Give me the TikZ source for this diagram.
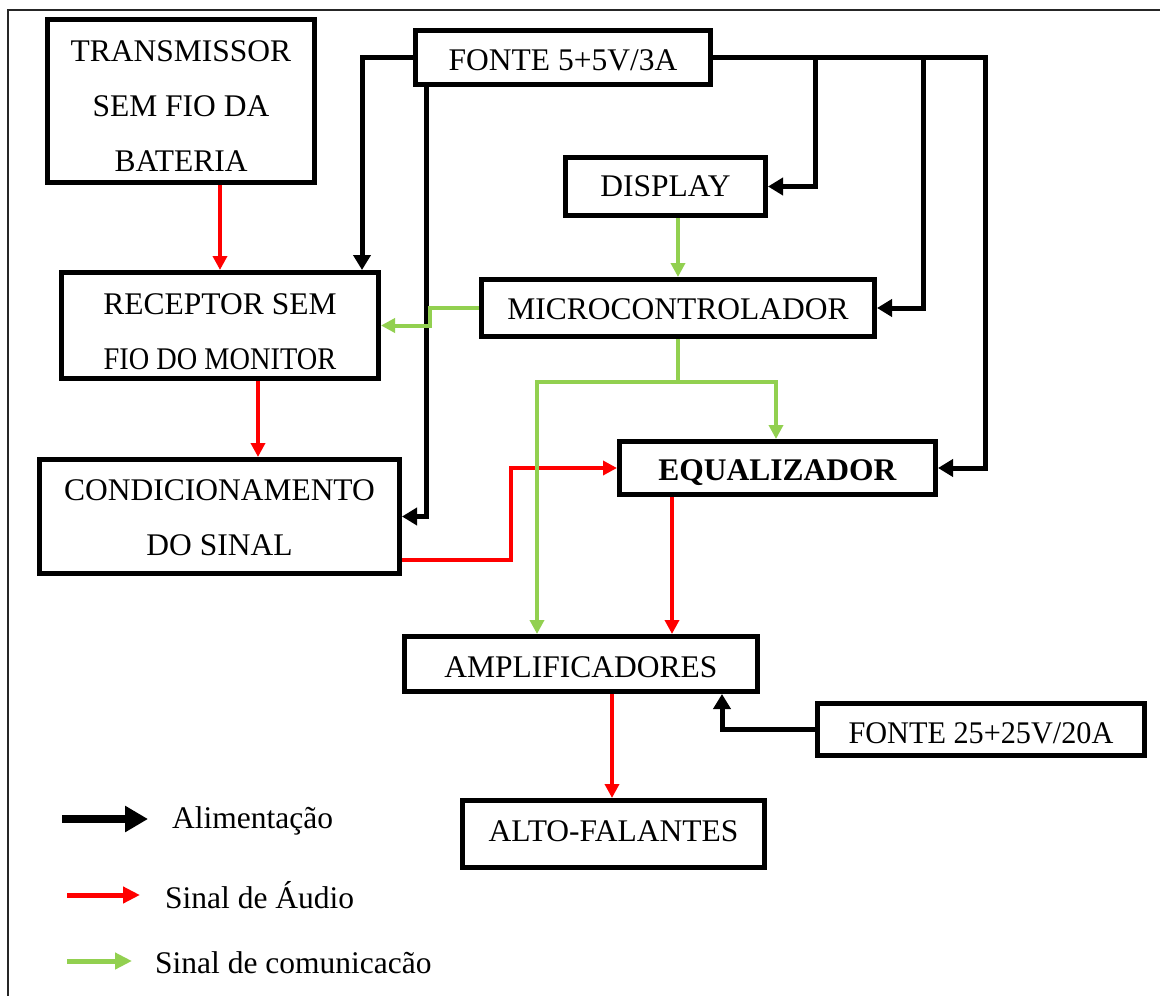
\documentclass[tikz,border=0pt]{standalone}
\usepackage{fontspec}
\setmainfont{Liberation Serif}
\usetikzlibrary{arrows.meta,calc}
\definecolor{audred}{RGB}{255,0,0}
\definecolor{comgreen}{RGB}{146,208,80}
\newcommand\lowr[2]{\raisebox{-#1}[\height][\depth]{#2}}
\begin{document}
\begin{tikzpicture}[x=1pt,y=-1pt,
  box/.style={draw, line width=5pt, align=center, inner sep=0pt, font=\fontsize{31.5}{55}\selectfont},
  pwline/.style={draw=black, line width=5pt, -{Triangle[length=15pt,width=17pt]}},
  audline/.style={draw=audred, line width=4pt, -{Triangle[length=14pt,width=14pt]}},
  comline/.style={draw=comgreen, line width=4pt, -{Triangle[length=14pt,width=14pt]}},
  lbl/.style={inner sep=0pt, font=\fontsize{31.5}{38}\selectfont},
  frameline/.style={draw=black!85, line width=1.5pt}]
\useasboundingbox (0,0) rectangle (1160,996);
\clip (0,0) rectangle (1160,996);
% outer frame (only left and top visible)
\draw[frameline] (8,1100) -- (8,10) -- (1200,10);

% boxes
\node[box, minimum width=267, minimum height=163] (tx) at (181,101) {\lowr{5pt}{TRANSMISSOR}\\\lowr{5pt}{SEM FIO DA}\\\lowr{5pt}{BATERIA}};
\node[box, minimum width=295, minimum height=54] (f5) at (563,57.5) {\lowr{3pt}{FONTE 5+5V/3A}};
\node[box, minimum width=200, minimum height=58] (disp) at (665.5,186.5) {DISPLAY};
\node[box, minimum width=393, minimum height=57] (mc) at (678,308) {\lowr{1pt}{MICROCONTROLADOR}};
\node[box, minimum width=317, minimum height=106] (rx) at (220,325.5) {\lowr{6pt}{RECEPTOR SEM}\\\lowr{6pt}{\scalebox{0.9}[1]{FIO DO MONITOR}}};
\node[box, minimum width=360, minimum height=114] (cond) at (219.5,516.5) {\lowr{1pt}{CONDICIONAMENTO}\\\lowr{1pt}{DO SINAL}};
\node[box, minimum width=316, minimum height=53] (eq) at (777.5,468) {\lowr{5pt}{\textbf{EQUALIZADOR}}};
\node[box, minimum width=353, minimum height=55] (amp) at (581,664) {\lowr{3pt}{AMPLIFICADORES}};
\node[box, minimum width=327, minimum height=52] (f25) at (981,729.5) {\lowr{4pt}{\scalebox{0.96}[1]{FONTE 25+25V/20A}}};
\node[box, minimum width=302, minimum height=67] (alto) at (613.5,834) {\lowr{-3pt}{ALTO-FALANTES}};

% power (black)
\draw[pwline] (f5.west) -| ([xshift=142pt]rx.north);
\draw[pwline] ([xshift=-137pt]f5.south) |- (cond.east);
\draw[pwline] (f5.east) -- ++(272,0) |- (eq.east);
\draw[pwline] ([xshift=102pt]f5.east) |- (disp.east);
\draw[pwline] ([xshift=210pt]f5.east) |- (mc.east);
\draw[pwline] (f25.west) -| ([xshift=141pt]amp.south);

% audio (red)
\draw[audline] ([xshift=39pt]tx.south) -- (rx.north);
\draw[audline] ([xshift=38pt]rx.south) -- ([xshift=38.5pt]cond.north);
\draw[audline] ([yshift=-43.5pt]cond.east) -- ++(109,0) |- (eq.west);
\draw[audline] ([xshift=-105.5pt]eq.south) -- ([xshift=91pt]amp.north);
\draw[audline] ([xshift=31pt]amp.south) -- ([xshift=-1.5pt]alto.north);

% communication (green)
\draw[comline] ([xshift=12.5pt]disp.south) -- (mc.north);
\draw[comline] (mc.west) -- ++(-49,0) |- (rx.east);
\draw[comgreen, line width=4pt] (mc.south) -- ++(0,43) coordinate (j);
\draw[comline] (j) -| ([xshift=-44pt]amp.north);
\draw[comline] (j) -| ([xshift=-1.5pt]eq.north);

% legend
\node[lbl, anchor=base west] (lg1) at (172,828) {Alimentação};
\node[lbl, anchor=base west] (lg2) at (165,908) {Sinal de Áudio};
\node[lbl, anchor=base west] (lg3) at (155,973) {Sinal de comunicacão};
\coordinate (k1a) at (62,819);  \coordinate (k1b) at (148,819);
\coordinate (k2a) at (67,895);  \coordinate (k2b) at (140,895);
\coordinate (k3a) at (67,961);  \coordinate (k3b) at (132,961);
\draw[black, line width=8pt, -{Triangle[length=23pt,width=25pt]}] (k1a) -- (k1b);
\draw[audred, line width=5pt, -{Triangle[length=17pt,width=16pt]}] (k2a) -- (k2b);
\draw[comgreen, line width=5pt, -{Triangle[length=17pt,width=16pt]}] (k3a) -- (k3b);
\end{tikzpicture}
\end{document}
